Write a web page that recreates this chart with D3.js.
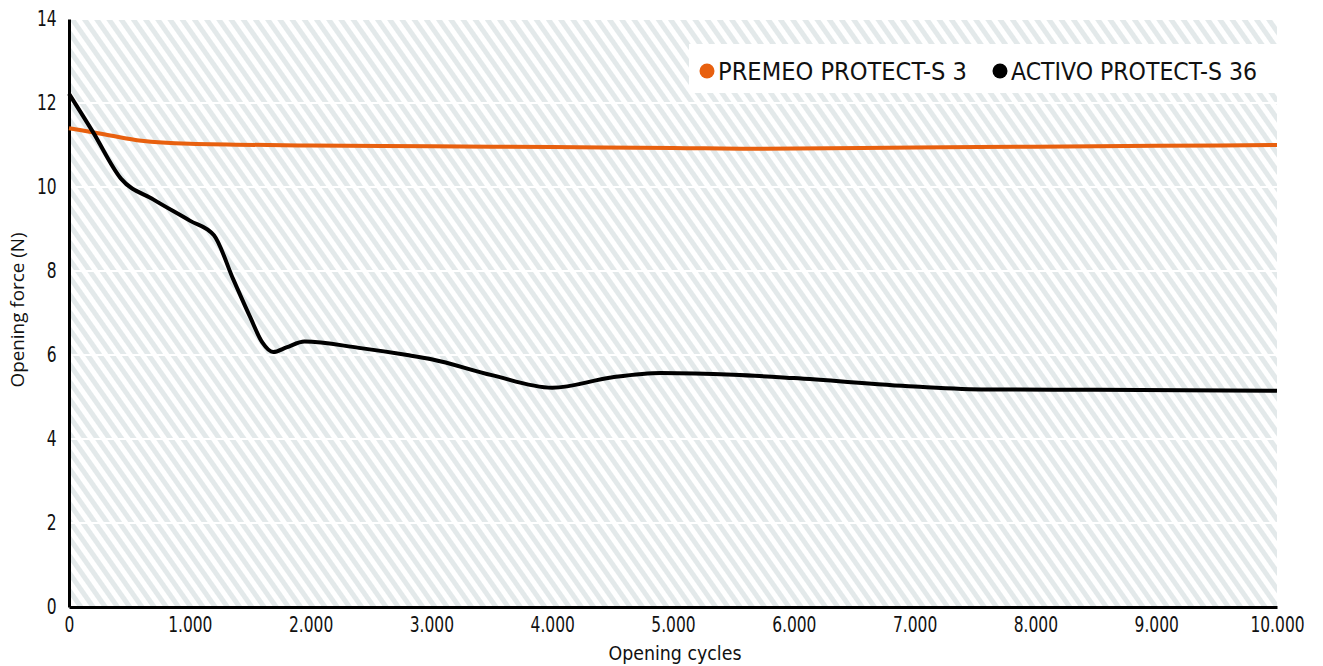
<!DOCTYPE html>
<html lang="en">
<head>
<meta charset="utf-8">
<title>Opening force</title>
<script src="https://d3js.org/d3.v7.min.js"></script>
<style>
  body { margin: 0; background: #fff; }
  .cond { font-family: "Liberation Sans Narrow", "DejaVu Sans Condensed", sans-serif; font-stretch: condensed; }
</style>
</head>
<body>
<div id="chart"></div>
<script>
// values
var premeo = [[0,11.4],[300,11.25],[600,11.1],[1000,11.03],[2000,10.99],[3000,10.97],[4000,10.95],[5000,10.93],[5700,10.91],[7000,10.94],[8000,10.96],[9000,10.98],[10000,11.0]];
var activo = [[0,12.22],[200,11.3],[430,10.2],[700,9.7],[1000,9.2],[1200,8.85],[1360,7.8],[1500,6.9],[1600,6.3],[1690,6.07],[1800,6.18],[1950,6.32],[2400,6.17],[2800,6.0],[3000,5.9],[3500,5.52],[4000,5.22],[4500,5.47],[4900,5.57],[5500,5.53],[6000,5.45],[7000,5.25],[7600,5.18],[8500,5.17],[10000,5.15]];
var xTicks = [0,1000,2000,3000,4000,5000,6000,7000,8000,9000,10000];
var yTicks = [0,2,4,6,8,10,12,14];
var seriesNames = ["PREMEO PROTECT-S 3", "ACTIVO PROTECT-S 36"];
var seriesColors = ["#e8600f", "#000000"];

var W = 1323, H = 666;
var margin = {top: 19, right: 46, bottom: 59, left: 69};
var width = W - margin.left - margin.right,
    height = H - margin.top - margin.bottom;

var svg = d3.select("#chart").append("svg")
    .attr("width", W).attr("height", H);

var defs = svg.append("defs");
var pat = defs.append("pattern")
    .attr("id", "hatch")
    .attr("patternUnits", "userSpaceOnUse")
    .attr("width", 10).attr("height", 10)
    .attr("patternTransform", "rotate(-35)");
pat.append("rect").attr("width", 10).attr("height", 10).attr("fill", "#fff");
pat.append("rect").attr("width", 5).attr("height", 10).attr("fill", "#e3e9ea");

var g = svg.append("g")
    .attr("transform", "translate(" + margin.left + "," + margin.top + ")");

var x = d3.scaleLinear().domain([0, 10000]).range([0, width]);
var y = d3.scaleLinear().domain([0, 14]).range([height, 0]);

g.append("rect")
    .attr("width", width).attr("height", height)
    .attr("fill", "url(#hatch)");

// white grid lines
g.selectAll(".grid").data(yTicks.filter(function(d){ return d > 0; }))
  .enter().append("line")
    .attr("x1", 0).attr("x2", width)
    .attr("y1", function(d){ return y(d); })
    .attr("y2", function(d){ return y(d); })
    .attr("stroke", "#fff").attr("stroke-width", 2);

// axes
var fmt = function(d){ return d3.format(",")(d).replace(/,/g, "."); };
var xAxis = g.append("g")
    .attr("transform", "translate(0," + height + ")")
    .call(d3.axisBottom(x).tickValues(xTicks).tickFormat(fmt).tickSize(0).tickPadding(10));
var yAxis = g.append("g")
    .call(d3.axisLeft(y).tickValues(yTicks).tickSize(0).tickPadding(15));

[xAxis, yAxis].forEach(function(a){
  a.select(".domain").attr("stroke", "#000").attr("stroke-width", 3);
  a.selectAll("text").attr("class", "cond").attr("font-size", 21).attr("fill", "#111")
    .attr("transform", "scale(0.82,1)");
});

// lines
var line = d3.line()
    .x(function(d){ return x(d[0]); })
    .y(function(d){ return y(d[1]); })
    .curve(d3.curveMonotoneX);

[premeo, activo].forEach(function(s, i){
  g.append("path")
    .datum(s)
    .attr("d", line)
    .attr("fill", "none")
    .attr("stroke", seriesColors[i])
    .attr("stroke-width", 4)
    .attr("stroke-linejoin", "round");
});

// legend
var leg = g.append("g");
leg.append("rect")
    .attr("x", 620).attr("y", 25)
    .attr("width", width - 620).attr("height", 49)
    .attr("fill", "#fff");
var legX = [638, 931], legW = [249, 246];
seriesNames.forEach(function(n, i){
  leg.append("circle")
    .attr("cx", legX[i]).attr("cy", 52).attr("r", 7.5)
    .attr("fill", seriesColors[i]);
  leg.append("text")
    .attr("class", "cond")
    .attr("x", legX[i] + 11).attr("y", 61)
    .attr("font-size", 25)
    .attr("fill", "#111")
    .attr("textLength", legW[i])
    .attr("lengthAdjust", "spacingAndGlyphs")
    .text(n);
});

// axis titles
svg.append("text")
    .attr("class", "cond")
    .attr("x", margin.left + width / 2 + 2).attr("y", 660)
    .attr("text-anchor", "middle")
    .attr("font-size", 20)
    .attr("fill", "#111")
    .attr("textLength", 133)
    .attr("lengthAdjust", "spacingAndGlyphs")
    .text("Opening cycles");

svg.append("text")
    .attr("transform", "translate(24,310) rotate(-90)")
    .attr("text-anchor", "middle")
    .attr("font-family", "'Open Sans', sans-serif")
    .attr("font-size", 18)
    .attr("fill", "#111")
    .attr("textLength", 155)
    .attr("lengthAdjust", "spacingAndGlyphs")
    .text("Opening force (N)");
</script>
</body>
</html>
